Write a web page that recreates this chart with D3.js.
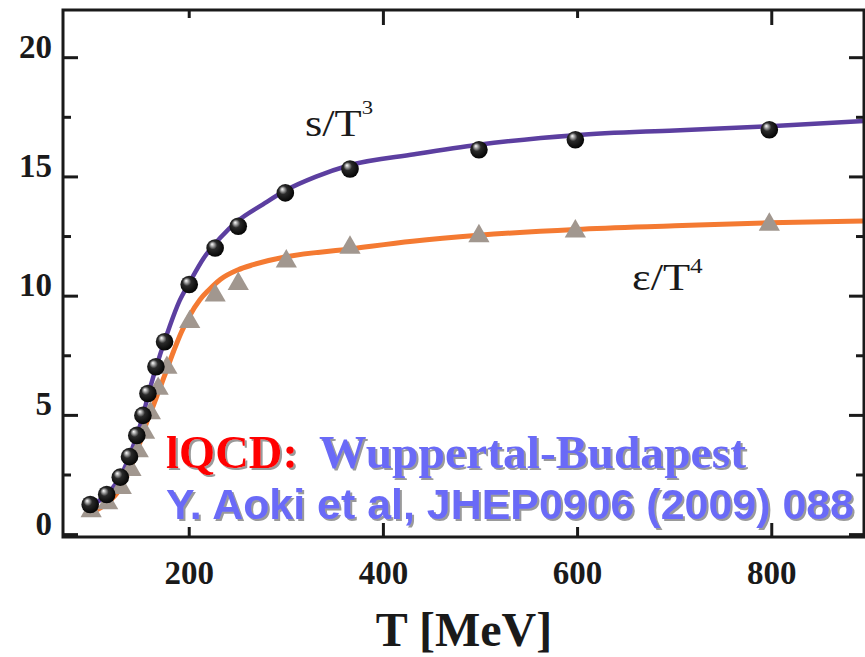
<!DOCTYPE html>
<html>
<head>
<meta charset="utf-8">
<script src="https://d3js.org/d3.v7.min.js"></script>
<style>
  body { margin: 0; background: #fff; }
  svg { display: block; }
  .ticklab { font-family: "Liberation Serif", "Times New Roman", serif; font-weight: bold; font-size: 33px; fill: #1a1a1a; }
</style>
</head>
<body>
<svg id="chart"></svg>
<script>
/*
     GLOBAL LAYOUT CONSTANTS
*/
var width = 865;
var height = 657;
var margin = {top: 10, right: 1, bottom: 120, left: 63};

var w = width - margin.left - margin.right;
var h = height - margin.top - margin.bottom;

/*
     DATA
*/
// lattice points, s/T^3 (spheres)
var sT = [98, 115, 129, 138.5, 146, 152.3, 157.5, 165.7, 174.6, 200, 226.7, 250.5, 299, 365.6, 498.4, 597.7, 797.5];
var sVal = [1.26, 1.68, 2.41, 3.27, 4.16, 5.0, 5.92, 7.04, 8.09, 10.49, 12.02, 12.93, 14.33, 15.33, 16.14, 16.56, 16.98];

// lattice points, e/T^4 (triangles)
var eT = [99, 116, 130, 140, 147.5, 154, 160, 168, 177, 200.5, 226.7, 250.5, 300, 365.6, 498.4, 597.7, 797.5];
var eVal = [0.99, 1.32, 1.96, 2.72, 3.5, 4.28, 5.1, 6.12, 7.0, 8.92, 10.03, 10.52, 11.46, 12.04, 12.52, 12.72, 13.0];

// fitted curves
var sCurveT = [98, 110, 120, 130, 140, 150, 160, 170, 180, 190, 200, 215, 232, 250, 276, 300, 330, 366, 432, 498, 598, 700, 798, 895];
var sCurveV = [1.2, 1.5, 1.9, 2.5, 3.45, 4.65, 6.2, 7.55, 8.75, 9.8, 10.55, 11.6, 12.45, 13.15, 13.85, 14.45, 15.0, 15.5, 15.95, 16.35, 16.75, 16.95, 17.12, 17.35];

var eCurveT = [100, 115, 130, 140, 150, 157, 162, 168, 174, 184, 192, 200, 211, 220, 232, 250, 266, 300, 366, 430, 498, 598, 700, 798, 895];
var eCurveV = [0.95, 1.3, 2.0, 2.85, 3.95, 4.8, 5.3, 5.95, 6.6, 7.7, 8.5, 9.15, 9.85, 10.25, 10.7, 11.1, 11.32, 11.65, 11.98, 12.3, 12.55, 12.8, 12.95, 13.08, 13.15];

// axes
var xTicks = [200, 400, 600, 800];
var xLongTicks = [400, 800];
var yTicks = [0, 5, 10, 15, 20];
var yMinorTicks = [2.5, 7.5, 12.5, 17.5];

/*
     SCALES
*/
var x = d3.scaleLinear().domain([70, 895]).range([0, w]);
var y = d3.scaleLinear().domain([-0.1, 22.0]).range([h, 0]);

var svg = d3.select("#chart")
    .attr("width", width)
    .attr("height", height);

var defs = svg.append("defs");
var grad = defs.append("radialGradient")
    .attr("id", "ball")
    .attr("cx", "45%").attr("cy", "45%").attr("r", "60%")
    .attr("fx", "32%").attr("fy", "28%");
grad.append("stop").attr("offset", "0%").attr("stop-color", "#ffffff");
grad.append("stop").attr("offset", "14%").attr("stop-color", "#b8b8b8");
grad.append("stop").attr("offset", "40%").attr("stop-color", "#2a2a2a");
grad.append("stop").attr("offset", "100%").attr("stop-color", "#000000");

// grey drop shadow under the source text
defs.append("filter")
    .attr("id", "shade")
    .attr("x", "-5%").attr("y", "-20%").attr("width", "115%").attr("height", "150%")
  .append("feDropShadow")
    .attr("dx", 2).attr("dy", 2).attr("stdDeviation", 0.4)
    .attr("flood-color", "#9a9a9a").attr("flood-opacity", 1);

var g = svg.append("g")
    .attr("transform", "translate(" + margin.left + "," + margin.top + ")");

/*
     CURVES
*/
var line = d3.line()
    .x(function(d) { return x(d[0]); })
    .y(function(d) { return y(d[1]); })
    .curve(d3.curveMonotoneX);

g.append("path")
    .datum(d3.zip(eCurveT, eCurveV))
    .attr("d", line)
    .attr("fill", "none")
    .attr("stroke", "#f47a32")
    .attr("stroke-width", 5);

g.append("path")
    .datum(d3.zip(sCurveT, sCurveV))
    .attr("d", line)
    .attr("fill", "none")
    .attr("stroke", "#5c3fa0")
    .attr("stroke-width", 4.5);

/*
     MARKERS
*/
var tri = d3.symbol().type(d3.symbolTriangle).size(195);

g.selectAll(".tri")
    .data(d3.zip(eT, eVal))
    .enter().append("path")
    .attr("class", "tri")
    .attr("d", tri)
    .attr("transform", function(d) { return "translate(" + x(d[0]) + "," + y(d[1]) + ")"; })
    .attr("fill", "#a1978f");

g.selectAll(".ball")
    .data(d3.zip(sT, sVal))
    .enter().append("circle")
    .attr("class", "ball")
    .attr("cx", function(d) { return x(d[0]); })
    .attr("cy", function(d) { return y(d[1]); })
    .attr("r", 8.8)
    .attr("fill", "url(#ball)");

/*
     FRAME AND TICKS
*/
g.append("rect")
    .attr("x", 0).attr("y", 0)
    .attr("width", w).attr("height", h)
    .attr("fill", "none")
    .attr("stroke", "#1a1a1a")
    .attr("stroke-width", 3);

var tickStroke = "#1a1a1a";

// left & right
yTicks.concat(yMinorTicks).forEach(function(v) {
  var len = yTicks.indexOf(v) >= 0 ? 15 : 8;
  g.append("line").attr("x1", 0).attr("x2", len)
    .attr("y1", y(v)).attr("y2", y(v))
    .attr("stroke", tickStroke).attr("stroke-width", 3);
  g.append("line").attr("x1", w).attr("x2", w - len)
    .attr("y1", y(v)).attr("y2", y(v))
    .attr("stroke", tickStroke).attr("stroke-width", 3);
});

// top & bottom
xTicks.forEach(function(v) {
  var isLong = xLongTicks.indexOf(v) >= 0;
  g.append("line").attr("x1", x(v)).attr("x2", x(v))
    .attr("y1", 0).attr("y2", isLong ? 15 : 8)
    .attr("stroke", tickStroke).attr("stroke-width", 3);
  g.append("line").attr("x1", x(v)).attr("x2", x(v))
    .attr("y1", h).attr("y2", h - (isLong ? 14 : 10))
    .attr("stroke", tickStroke).attr("stroke-width", 3);
});

// tick labels
g.selectAll(".ylab")
  .data(yTicks)
  .enter().append("text")
  .attr("class", "ticklab")
  .attr("x", -11)
  .attr("y", function(d) { return y(d); })
  .attr("text-anchor", "end")
  .text(function(d) { return d; });

g.selectAll(".xlab")
  .data(xTicks)
  .enter().append("text")
  .attr("class", "ticklab")
  .attr("x", function(d) { return x(d); })
  .attr("y", h + 47)
  .attr("text-anchor", "middle")
  .text(function(d) { return d; });

// axis title
svg.append("text")
  .attr("x", 464).attr("y", 646)
  .attr("text-anchor", "middle")
  .style("font-family", "'Liberation Serif', serif")
  .style("font-weight", "bold")
  .style("font-size", "48px")
  .style("fill", "#1a1a1a")
  .text("T [MeV]");

/*
     CURVE LABELS
*/
var serif = "'Liberation Serif', 'Times New Roman', serif";

var sLab = svg.append("text")
  .attr("transform", "translate(305,136) scale(1.2,1)")
  .style("font-family", serif).style("font-size", "37px").style("fill", "#1a1a1a");
sLab.append("tspan").text("s/T");
sLab.append("tspan").attr("dy", -22).style("font-size", "19px").text("3");

var eLab = svg.append("text")
  .attr("transform", "translate(632,290) scale(1.2,1)")
  .style("font-family", serif).style("font-size", "37px").style("fill", "#1a1a1a");
eLab.append("tspan").text("\u03b5/T");
eLab.append("tspan").attr("dy", -17).style("font-size", "21px").text("4");

/*
     SOURCE LABELS
*/
var blue = "#6b6bf7";

function sourceText(txt, xx, yy, font, size, colour, len) {
  svg.append("text")
    .attr("x", xx).attr("y", yy)
    .attr("textLength", len).attr("lengthAdjust", "spacingAndGlyphs")
    .attr("filter", "url(#shade)")
    .style("font-family", font)
    .style("font-size", size)
    .style("font-weight", "bold")
    .style("fill", colour)
    .text(txt);
}

sourceText("lQCD:", 166, 468, serif, "46px", "#ff0000", 132);
sourceText("Wuppertal-Budapest", 319, 468, serif, "46px", blue, 427);
sourceText("Y. Aoki et al, JHEP0906 (2009) 088", 166, 519, "'Liberation Sans', Arial, sans-serif", "43px", blue, 688);

console.log("done");
</script>
</body>
</html>
